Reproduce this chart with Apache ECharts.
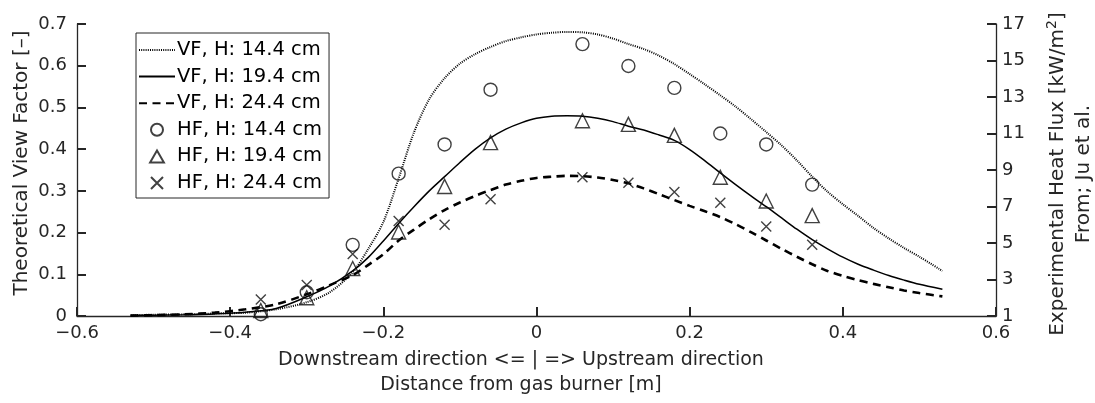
<!DOCTYPE html>
<html>
<head>
<meta charset="utf-8">
<script src="https://cdn.jsdelivr.net/npm/echarts@6/dist/echarts.min.js"></script>
<style>
  html, body { margin: 0; padding: 0; background: #fff; }
  #chart { width: 1095px; height: 403px; }
</style>
</head>
<body>
<div id="chart"></div>
<script>
// Distance from the gas burner [m] at which the view factor curves are sampled
const vfX = [-0.53,-0.50,-0.46,-0.42,-0.38,-0.34,-0.30,-0.27,-0.24,-0.22,-0.20,-0.18,-0.16,-0.14,-0.12,-0.10,-0.08,-0.06,-0.04,-0.02,
             0,0.02,0.04,0.06,0.08,0.10,0.12,0.14,0.16,0.18,0.20,0.22,0.24,0.26,0.28,0.30,0.32,0.34,0.36,0.38,0.40,0.42,0.44,0.46,0.48,0.50,0.53];

// Theoretical view factor [-] for burner heights 14.4, 19.4 and 24.4 cm
const vf144 = [0.002,0.003,0.004,0.006,0.008,0.016,0.033,0.057,0.105,0.16,0.225,0.33,0.44,0.52,0.57,0.605,0.628,0.645,0.659,0.668,
               0.675,0.679,0.681,0.680,0.675,0.665,0.652,0.640,0.624,0.604,0.580,0.555,0.529,0.502,0.472,0.441,0.409,0.373,0.334,0.298,0.268,0.240,0.211,0.186,0.163,0.142,0.108];
const vf194 = [0.001,0.002,0.003,0.005,0.009,0.018,0.046,0.072,0.108,0.14,0.18,0.222,0.262,0.30,0.334,0.368,0.40,0.427,0.448,0.463,
               0.474,0.479,0.480,0.479,0.474,0.466,0.455,0.446,0.434,0.421,0.399,0.372,0.343,0.315,0.288,0.262,0.235,0.208,0.183,0.161,0.141,0.124,0.110,0.097,0.086,0.076,0.064];
const vf244 = [0.001,0.002,0.004,0.008,0.016,0.028,0.052,0.074,0.098,0.122,0.148,0.181,0.207,0.232,0.254,0.272,0.288,0.302,0.315,0.324,
               0.331,0.334,0.336,0.335,0.332,0.326,0.318,0.306,0.292,0.278,0.264,0.251,0.237,0.220,0.201,0.181,0.161,0.142,0.124,0.108,0.096,0.086,0.077,0.069,0.061,0.055,0.047];

// Measured heat flux [kW/m²] (Ju et al.) at the gauge positions
const hfX   = [-0.36,-0.30,-0.24,-0.18,-0.12,-0.06,0.06,0.12,0.18,0.24,0.30,0.36];
const hf144 = [1.1, 2.3, 4.9, 8.8, 10.4, 13.4, 15.9, 14.7, 13.5, 11.0, 10.4, 8.2];
const hf194 = [1.3, 2.0, 3.6, 5.6, 8.1, 10.5, 11.7, 11.5, 10.9, 8.6, 7.3, 6.5];
const hf244 = [1.9, 2.7, 4.4, 6.2, 6.0, 7.4, 8.6, 8.3, 7.8, 7.2, 5.9, 4.9];

const FONT = 'DejaVu Sans';
const INK = '#262626';
const CLEAR = 'rgba(0,0,0,0)';

// Marker shapes (also used as legend icons so they keep their proportions)
const TRIANGLE = 'path://M5,0L10,8.7L0,8.7Z';
const CROSS = 'path://M0,0L10,10M10,0L0,10';

const pairs = (xs, ys) => xs.map((x, i) => [x, ys[i]]);
const fmt = v => (Math.abs(v) < 1e-9 ? '0' : v.toFixed(1)).replace('-', '\u2212');

const lineSeries = (name, ys, type, width) => ({
  name, type: 'line', data: pairs(vfX, ys), yAxisIndex: 0,
  smooth: 0.3, symbol: 'circle', showSymbol: false,
  lineStyle: { color: '#000', width, type },
  // keep the legend entry a plain line stroke
  itemStyle: { color: CLEAR, borderColor: CLEAR, borderWidth: 0 },
  emphasis: { disabled: true },
  z: 2
});
const markSeries = (name, ys, symbol, size) => ({
  name, type: 'scatter', data: pairs(hfX, ys), yAxisIndex: 1,
  symbol, symbolSize: size,
  itemStyle: { color: CLEAR, borderColor: '#111', borderWidth: 1.4 },
  z: 3
});

const axisLine = () => ({ show: true, onZero: false, lineStyle: { color: INK, width: 1.3 } });
// ticks point into the plot area
const axisTick = () => ({ show: true, inside: true, length: 9, lineStyle: { color: INK, width: 2 } });

const chart = echarts.init(document.getElementById('chart'));
chart.setOption({
  animation: false,
  backgroundColor: '#fff',
  textStyle: { fontFamily: FONT },
  grid: { left: 77, right: 99, top: 24, bottom: 87 },
  legend: {
    orient: 'vertical', left: 136, top: 33,
    padding: [7, 7, 5, 2],
    itemWidth: 36, itemHeight: 12, itemGap: 6.6,
    borderColor: INK, borderWidth: 1,
    backgroundColor: '#fff',
    textStyle: { fontFamily: FONT, fontSize: 19.5, color: '#000', lineHeight: 20, padding: [0, 0, 0, -3] },
    data: [
      { name: 'VF, H: 14.4 cm' },
      { name: 'VF, H: 19.4 cm' },
      { name: 'VF, H: 24.4 cm' },
      { name: 'HF, H: 14.4 cm', icon: 'circle' },
      { name: 'HF, H: 19.4 cm', icon: TRIANGLE },
      { name: 'HF, H: 24.4 cm', icon: CROSS }
    ]
  },
  xAxis: {
    type: 'value', min: -0.6, max: 0.6, interval: 0.2,
    axisLine: axisLine(), axisTick: axisTick(),
    axisLabel: { formatter: fmt, fontSize: 18, color: INK, fontFamily: FONT, margin: 8 },
    splitLine: { show: false }
  },
  yAxis: [
    {
      type: 'value', min: 0, max: 0.7, interval: 0.1,
      axisLine: axisLine(), axisTick: axisTick(),
      axisLabel: { formatter: fmt, fontSize: 18, color: INK, fontFamily: FONT, margin: 10 },
      splitLine: { show: false }
    },
    {
      type: 'value', position: 'right', min: 1, max: 17, interval: 2,
      axisLine: axisLine(), axisTick: axisTick(),
      axisLabel: { fontSize: 18, color: INK, fontFamily: FONT, margin: 6 },
      splitLine: { show: false }
    }
  ],
  graphic: [
    {
      type: 'text', x: 22, y: 163, rotation: Math.PI / 2,
      style: { text: 'Theoretical View Factor [\u2013]', font: '20px ' + FONT, fill: INK, align: 'center', verticalAlign: 'middle' }
    },
    {
      type: 'text', x: 1071, y: 174, rotation: Math.PI / 2,
      style: {
        text: 'Experimental Heat Flux [kW/m{s|2}]\nFrom; Ju et al.',
        font: '20px ' + FONT, fill: INK, align: 'center', verticalAlign: 'middle', lineHeight: 26,
        rich: { s: { fontSize: 14, fontFamily: FONT, fill: INK, verticalAlign: 'top', lineHeight: 26, padding: [0, 0, 9, 0] } }
      }
    },
    {
      type: 'text', x: 521, y: 360,
      style: { text: 'Downstream direction <= | => Upstream direction', font: '19px ' + FONT, fill: INK, align: 'center', verticalAlign: 'middle' }
    },
    {
      type: 'text', x: 521, y: 385,
      style: { text: 'Distance from gas burner [m]', font: '19px ' + FONT, fill: INK, align: 'center', verticalAlign: 'middle' }
    }
  ],
  series: [
    lineSeries('VF, H: 14.4 cm', vf144, [1, 1.2], 2),
    lineSeries('VF, H: 19.4 cm', vf194, 'solid', 1.5),
    lineSeries('VF, H: 24.4 cm', vf244, [8, 5.5], 2.6),
    markSeries('HF, H: 14.4 cm', hf144, 'circle', 13),
    markSeries('HF, H: 19.4 cm', hf194, TRIANGLE, 14),
    markSeries('HF, H: 24.4 cm', hf244, CROSS, 10)
  ]
});
</script>
</body>
</html>
